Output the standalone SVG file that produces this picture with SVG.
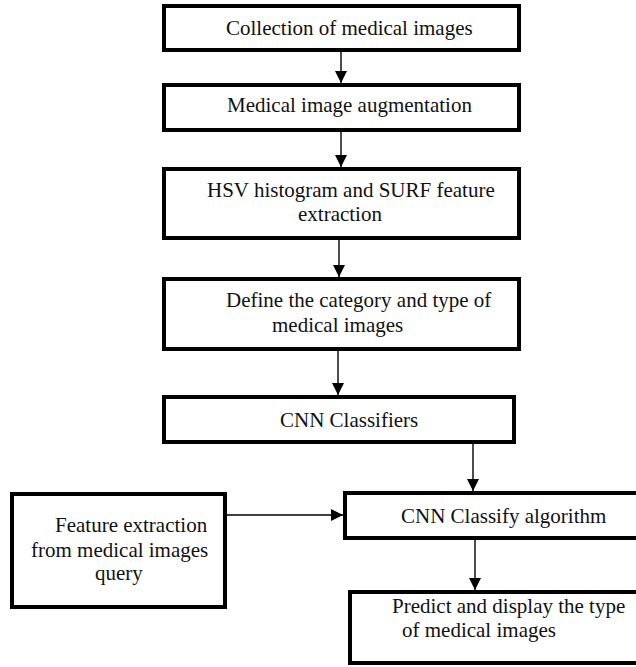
<svg xmlns="http://www.w3.org/2000/svg" width="636" height="667" viewBox="0 0 636 667">
<style>
.box{fill:#fff;stroke:#000;stroke-width:4}
.t{font-family:"Liberation Serif","Times New Roman",serif;font-size:21px;fill:#111}
.c{stroke:#000;stroke-width:1.4;fill:none}
</style>
<defs>
<marker id="ah" markerUnits="userSpaceOnUse" markerWidth="13" markerHeight="12" refX="12" refY="6" orient="auto">
<path d="M0,0 L12,6 L0,12 z" fill="#000"/>
</marker>
</defs>
<rect width="636" height="667" fill="#fff"/>
<g id="connectors">
<line class="c" x1="341" y1="52" x2="341" y2="83" marker-end="url(#ah)"/>
<line class="c" x1="341" y1="132" x2="341" y2="167" marker-end="url(#ah)"/>
<line class="c" x1="339" y1="240" x2="339" y2="277" marker-end="url(#ah)"/>
<line class="c" x1="338" y1="351" x2="338" y2="395" marker-end="url(#ah)"/>
<line class="c" x1="473" y1="444" x2="473" y2="491" marker-end="url(#ah)"/>
<line class="c" x1="227" y1="515" x2="343" y2="515" marker-end="url(#ah)"/>
<line class="c" x1="475" y1="540" x2="475" y2="590" marker-end="url(#ah)"/>
</g>
<g id="n1">
<rect class="box" x="164" y="6" width="355" height="44"/>
<text class="t" x="226" y="35">Collection of medical images</text>
</g>
<g id="n2">
<rect class="box" x="164" y="85" width="355" height="45"/>
<text class="t" x="227" y="112">Medical image augmentation</text>
</g>
<g id="n3">
<rect class="box" x="164" y="169" width="355" height="69"/>
<text class="t" x="207" y="197">HSV histogram and SURF feature</text>
<text class="t" x="298" y="221">extraction</text>
</g>
<g id="n4">
<rect class="box" x="164" y="279" width="355" height="70"/>
<text class="t" x="226" y="307">Define the category and type of</text>
<text class="t" x="272" y="332">medical images</text>
</g>
<g id="n5">
<rect class="box" x="164" y="397" width="350" height="45"/>
<text class="t" x="280" y="427">CNN Classifiers</text>
</g>
<g id="n6">
<rect class="box" x="12" y="494" width="213" height="113"/>
<text class="t" x="55" y="532">Feature extraction</text>
<text class="t" x="31" y="557">from medical images</text>
<text class="t" x="95" y="580">query</text>
</g>
<g id="n7">
<rect class="box" x="345" y="493" width="295" height="45"/>
<text class="t" x="401" y="523">CNN Classify algorithm</text>
</g>
<g id="n8">
<rect class="box" x="350" y="592" width="290" height="71"/>
<text class="t" x="392" y="613">Predict and display the type</text>
<text class="t" x="402" y="637">of medical images</text>
</g>
</svg>
